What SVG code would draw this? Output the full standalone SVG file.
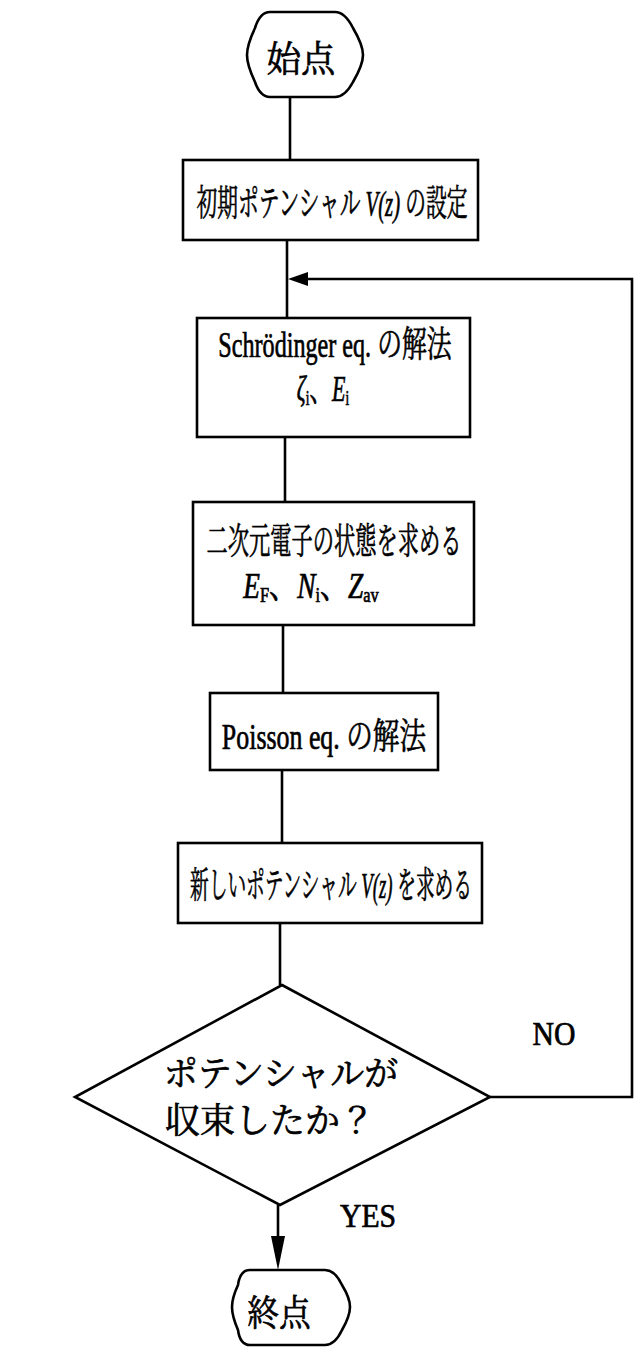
<svg xmlns="http://www.w3.org/2000/svg" width="642" height="1351" viewBox="0 0 642 1351">
<defs>
<style>
.shape{fill:#fff;stroke:#000;stroke-width:2.6}
.line{fill:none;stroke:#000;stroke-width:2.6}
.t{font-family:"Liberation Serif","Noto Serif CJK JP","Noto Sans CJK JP",serif;fill:#000;stroke:#000;stroke-width:0.7;text-anchor:middle}
.j{font-size:36px}
.l{font-size:35px}
.it{font-style:italic}
.sub{font-size:21px}
</style>
</defs>
<rect width="642" height="1351" fill="#fff"/>
<g id="connectors">
<line class="line" x1="290" y1="97" x2="290" y2="160"/>
<line class="line" x1="287" y1="240" x2="287" y2="318"/>
<line class="line" x1="285" y1="437" x2="285" y2="502"/>
<line class="line" x1="283" y1="625" x2="283" y2="693"/>
<line class="line" x1="282" y1="770" x2="282" y2="843"/>
<line class="line" x1="280" y1="923" x2="280" y2="985"/>
<line class="line" x1="278" y1="1205" x2="278" y2="1240"/>
<path d="M271,1236 L285,1236 L278,1270 Z" fill="#000"/>
<polyline class="line" points="490,1097 632,1097 632,279 306,279"/>
<path d="M308,272 L308,286 L288,279 Z" fill="#000"/>
</g>
<g id="start">
<path class="shape" d="M270,12 L335,12 Q345,12 353,28 Q363,45 363,55 Q363,65 353,82 Q345,97 335,97 L270,97 Q260,97 255,82 Q247,65 247,55 Q247,45 255,28 Q260,12 270,12 Z"/>
<text class="t" transform="translate(301,72) scale(0.95,1)" style="font-size:36px">始点</text>
</g>
<g id="init">
<rect class="shape" x="183" y="160" width="295" height="80"/>
<text class="t j" transform="translate(332,216) scale(0.576,1)">初期ポテンシャル<tspan class="it"> V(z) </tspan>の設定</text>
</g>
<g id="schrodinger">
<rect class="shape" x="197" y="318" width="273" height="119"/>
<text class="t l" transform="translate(335,357) scale(0.69,1)">Schrödinger eq. <tspan class="j">の解法</tspan></text>
<text class="t l" transform="translate(323,401) scale(0.63,1)"><tspan class="it">ζ</tspan><tspan class="sub" dy="4">i</tspan><tspan class="j" dy="-4">、</tspan><tspan class="it">E</tspan><tspan class="sub" dy="4">i</tspan></text>
</g>
<g id="state">
<rect class="shape" x="193" y="502" width="281" height="123"/>
<text class="t j" transform="translate(334,554) scale(0.59,1)">二次元電子の状態を求める</text>
<text class="t l" transform="translate(311,598) scale(0.78,1)"><tspan class="it">E</tspan><tspan class="sub" dy="4">F</tspan><tspan class="j" dy="-4">、</tspan><tspan class="it">N</tspan><tspan class="sub" dy="4">i</tspan><tspan class="j" dy="-4">、</tspan><tspan class="it">Z</tspan><tspan class="sub" dy="4">av</tspan></text>
</g>
<g id="poisson">
<rect class="shape" x="210" y="693" width="228" height="77"/>
<text class="t l" transform="translate(324,749) scale(0.74,1)">Poisson eq. <tspan class="j">の解法</tspan></text>
</g>
<g id="newpot">
<rect class="shape" x="178" y="843" width="304" height="80"/>
<text class="t j" transform="translate(331,898) scale(0.52,1)">新しいポテンシャル<tspan class="it"> V(z) </tspan>を求める</text>
</g>
<g id="decision">
<polygon class="shape" points="282,985 490,1097 280,1205 75,1097"/>
<text class="t" transform="translate(281,1086) scale(0.97,1)" style="font-size:35px">ポテンシャルが</text>
<text class="t" transform="translate(270,1133)" style="font-size:35px">収束したか？</text>
</g>
<g id="labels">
<text class="t" transform="translate(554,1045) scale(0.9,1)" style="font-size:33px">NO</text>
<text class="t" transform="translate(368,1227) scale(0.9,1)" style="font-size:33px">YES</text>
</g>
<g id="end">
<path class="shape" d="M250,1270 L325,1270 Q335,1270 342,1285 Q350,1298 350,1307 Q350,1316 342,1330 Q335,1345 325,1345 L250,1345 Q240,1345 238,1330 Q232,1316 232,1307 Q232,1298 238,1285 Q240,1270 250,1270 Z"/>
<text class="t" transform="translate(279,1326) scale(0.88,1)" style="font-size:36px">終点</text>
</g>
</svg>
